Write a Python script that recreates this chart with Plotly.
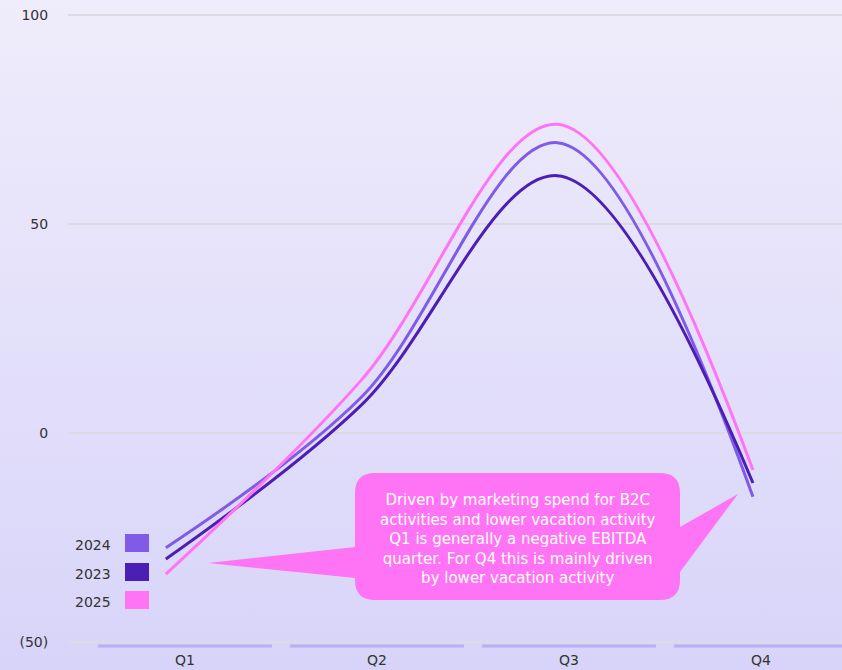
import base64
import plotly.graph_objects as go

# Quarterly EBITDA profile per year
quarters = ["Q1", "Q2", "Q3", "Q4"]
years = ["2024", "2023", "2025"]
ebitda_2024 = [-27.5, 8.6, 69.5, -15.3]
ebitda_2023 = [-30.2, 6.7, 61.6, -12.0]
ebitda_2025 = [-33.8, 12.7, 73.9, -8.9]
series = {"2024": ebitda_2024, "2023": ebitda_2023, "2025": ebitda_2025}
colors = {"2024": "#7F5BE8", "2023": "#4B1FB4", "2025": "#FF74F5"}

y_tickvals = [-50, 0, 50, 100]
y_ticktext = ["(50)", "0", "50", "100"]

note = ("Driven by marketing spend for B2C<br>activities and lower vacation activity<br>"
        "Q1 is generally a negative EBITDA<br>quarter. For Q4 this is mainly driven<br>"
        "by lower vacation activity")

W, H = 842, 670
ML, MR, MT, MB = 68, 0, 14, 27
PW, PH = W - ML - MR, H - MT - MB
FONT = "DejaVu Sans"


def px(x):
    return (x - ML) / PW


def py(y):
    return (H - MB - y) / PH


fig = go.Figure()

qpos = list(range(len(quarters)))
for yr in years:
    fig.add_trace(go.Scatter(
        x=qpos, y=series[yr], mode="lines", name=yr,
        line=dict(color=colors[yr], width=3, shape="spline", smoothing=1.0),
        hoverinfo="skip", showlegend=False,
    ))

# carrier trace for the quarter label axis
fig.add_trace(go.Scatter(
    x=quarters, y=ebitda_2023, xaxis="x2", mode="markers",
    marker=dict(size=1, opacity=0), hoverinfo="skip", showlegend=False,
))

# soft vertical gradient behind everything
svg = ('<svg xmlns="http://www.w3.org/2000/svg" width="10" height="100" preserveAspectRatio="none">'
       '<defs><linearGradient id="g" x1="0" y1="0" x2="0" y2="1">'
       '<stop offset="0" stop-color="#EFECFB"/><stop offset="1" stop-color="#D8D4F9"/>'
       '</linearGradient></defs><rect width="10" height="100" fill="url(#g)"/></svg>')
src = "data:image/svg+xml;base64," + base64.b64encode(svg.encode()).decode()

shapes = []
# band underline for each quarter
for i, q in enumerate(quarters):
    shapes.append(dict(type="line", xref="x2", yref="paper",
                       x0=i - 0.453, x1=i + 0.453, y0=py(646), y1=py(646),
                       line=dict(color="#B8AEFA", width=3)))

# speech bubble with two pointers
bx0, bx1, by0, by1, r = 355, 680, 473, 600, 20
pts = [
    ("M", bx0 + r, by0), ("L", bx1 - r, by0), ("Q", bx1, by0, bx1, by0 + r),
    ("L", bx1, 527), ("L", 738, 494), ("L", bx1, 572),
    ("L", bx1, by1 - r), ("Q", bx1, by1, bx1 - r, by1),
    ("L", bx0 + r, by1), ("Q", bx0, by1, bx0, by1 - r),
    ("L", bx0, 578), ("L", 208, 563), ("L", bx0, 547),
    ("L", bx0, by0 + r), ("Q", bx0, by0, bx0 + r, by0),
]
path = ""
for p in pts:
    cmd, coords = p[0], p[1:]
    xy = []
    for k in range(0, len(coords), 2):
        xy.append(f"{px(coords[k]):.5f},{py(coords[k + 1]):.5f}")
    path += cmd + " " + " ".join(xy) + " "
path += "Z"
shapes.append(dict(type="path", xref="paper", yref="paper", path=path,
                   fillcolor="#FF74F5", line=dict(width=0), layer="above"))

annotations = [dict(xref="paper", yref="paper", x=px(518), y=py(539), text=note,
                    showarrow=False, align="center", xanchor="center", yanchor="middle",
                    font=dict(family=FONT, size=15, color="white"))]

# legend: label left of swatch
leg_rows = [("2024", 543), ("2023", 572), ("2025", 600)]
for yr, yc in leg_rows:
    shapes.append(dict(type="rect", xref="paper", yref="paper",
                       x0=px(125), x1=px(149), y0=py(yc + 9), y1=py(yc - 9),
                       fillcolor=colors[yr], line=dict(width=0)))
    annotations.append(dict(xref="paper", yref="paper", x=px(113), y=py(yc + 2),
                            text=yr, showarrow=False, xanchor="right", yanchor="middle",
                            font=dict(family=FONT, size=14, color="#333333")))

fig.update_layout(
    width=W, height=H,
    margin=dict(l=ML, r=MR, t=MT, b=MB, autoexpand=False),
    paper_bgcolor="#E4E1FA", plot_bgcolor="rgba(0,0,0,0)",
    font=dict(family=FONT, color="#333333", size=14),
    xaxis=dict(range=[-0.5, 3.455], visible=False, showgrid=False),
    xaxis2=dict(type="category", overlaying="x", side="bottom", range=[-0.609, 3.422],
                showgrid=False, showline=False, zeroline=False, automargin=False,
                ticks="outside", ticklen=4, tickcolor="rgba(0,0,0,0)",
                tickfont=dict(size=14, color="#333333")),
    yaxis=dict(range=[-50.3, 100.3], tickvals=y_tickvals, ticktext=y_ticktext,
               showgrid=True, gridcolor="#DCDAE3", gridwidth=2, zeroline=False,
               showline=False, ticks="outside", ticklen=16, tickcolor="rgba(0,0,0,0)",
               automargin=False, tickfont=dict(size=14, color="#333333")),
    images=[dict(source=src, xref="paper", yref="paper", x=-ML / PW, y=1 + MT / PH,
                 sizex=W / PW, sizey=H / PH, sizing="stretch", layer="below",
                 xanchor="left", yanchor="top")],
    shapes=shapes, annotations=annotations,
    showlegend=False, hovermode=False,
)

fig.write_html("out.html")
